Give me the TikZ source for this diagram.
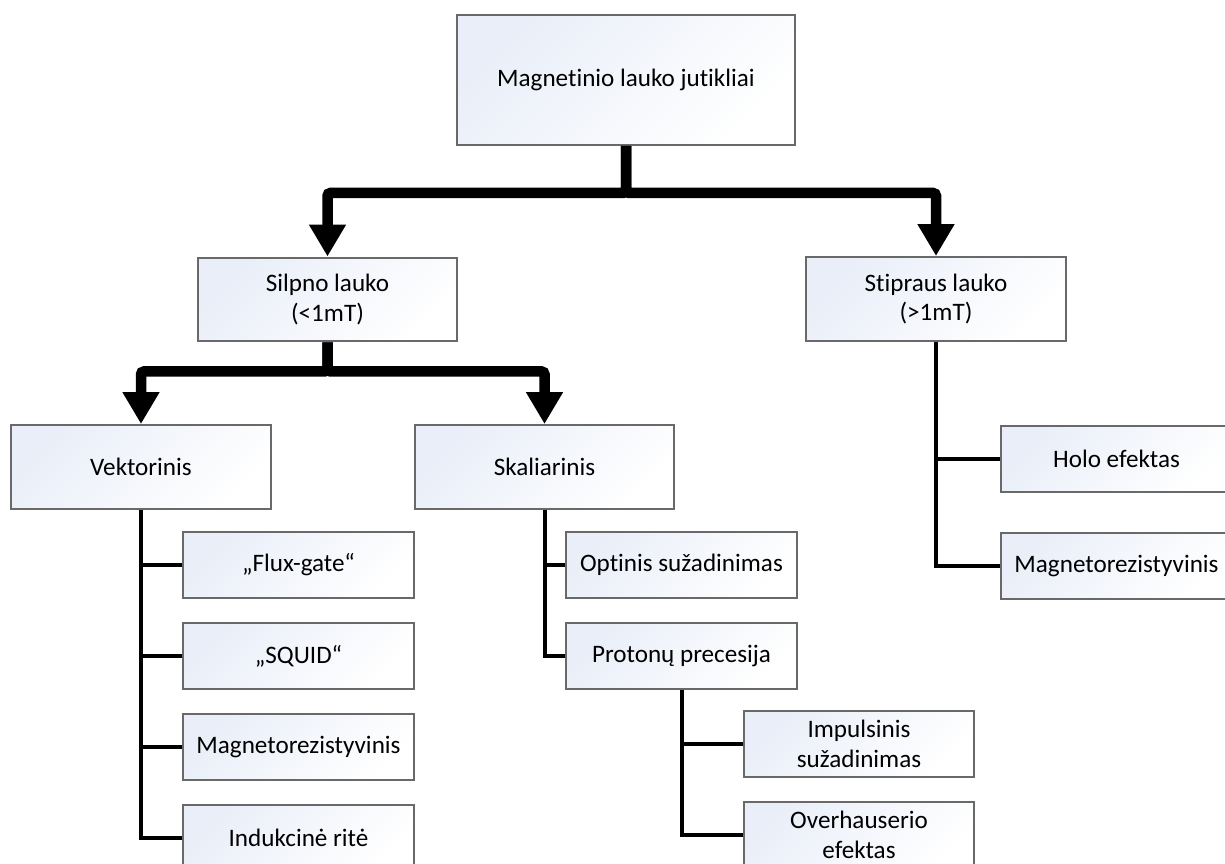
\documentclass[tikz,border=0pt]{standalone}
\usepackage{fontspec}
\setmainfont[Ligatures=NoCommon]{Carlito}
\usetikzlibrary{positioning,arrows.meta}
\definecolor{boxblue}{RGB}{233,238,248}
\definecolor{boxedge}{RGB}{105,105,105}
\tikzset{
x=0.02cm, y=-0.02cm,
node distance=0.46cm,
every node/.style={font=\fontsize{14.3}{17}\selectfont, align=center, inner sep=0pt},
box/.style={draw=boxedge, line width=0.04cm, top color=boxblue, bottom color=white, shading angle=45},
topbox/.style={box, minimum width=6.76cm, minimum height=2.6cm},
midbox/.style={box, minimum width=5.2cm, minimum height=1.68cm},
leafbox/.style={box, minimum width=4.62cm, minimum height=1.32cm},
bigarrow/.style={line width=0.21cm, rounded corners=0.06cm, -{Triangle[width=0.7cm, length=0.64cm]}},
thinline/.style={line width=0.08cm},
}

\begin{document}
\begin{tikzpicture}
    \useasboundingbox (0,0) rectangle (1225,863);
    \node[topbox] (jutikliai) at (626,80) {Magnetinio lauko jutikliai};
    \node[midbox] (silpno) at (327.5,299.5) {Silpno lauko\\(<1mT)};
    \node[midbox] (stipraus) at (936,299) {Stipraus lauko\\(>1mT)};
    \node[midbox] (vekt) at (141,467) {Vektorinis};
    \node[midbox] (skal) at (544.5,467) {Skaliarinis};
    %vektoriniai
    \node[leafbox] (flux) at (298.5,565) {„Flux-gate“};
    \node[leafbox] (squid) [below=of flux] {„SQUID“};
    \node[leafbox] (magrez) [below=of squid] {Magnetorezistyvinis};
    \node[leafbox] (rite) [below=of magrez] {Indukcinė ritė};
    %skaliariniai
    \node[leafbox] (optinis) at (681.5,565) {Optinis sužadinimas};
    \node[leafbox] (protonu) [below=of optinis] {Protonų precesija};
    \node[leafbox] (impuls) at (859,744) {Impulsinis\\sužadinimas};
    \node[leafbox] (overh) [below=of impuls] {Overhauserio\\efektas};
    %stipraus lauko
    \node[leafbox] (holo) at (1116.5,459) {Holo efektas};
    \node[leafbox] (magrez2) [below=0.78cm of holo] {Magnetorezistyvinis};
    \draw[bigarrow] (jutikliai.south) -- ++(0,47) -| (silpno.north);
    \draw[bigarrow] (jutikliai.south) -- ++(0,47) -| (stipraus.north);
    \draw[bigarrow] (silpno.south) -- ++(0,29) -| (vekt.north);
    \draw[bigarrow] (silpno.south) -- ++(0,29) -| (skal.north);
    \foreach \c in {flux,squid,magrez,rite}
        \draw[thinline] (vekt.south) |- (\c.west);
    \foreach \c in {optinis,protonu}
        \draw[thinline] (skal.south) |- (\c.west);
    \foreach \c in {impuls,overh}
        \draw[thinline] (protonu.south) |- (\c.west);
    \foreach \c in {holo,magrez2}
        \draw[thinline] (stipraus.south) |- (\c.west);
\end{tikzpicture}
\end{document}
